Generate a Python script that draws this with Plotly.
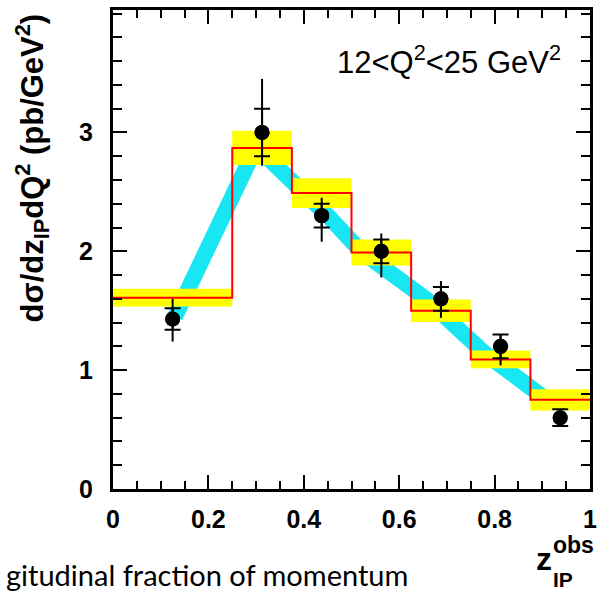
import plotly.graph_objects as go

# ---- data ----
bin_edges = [0.0, 0.25, 0.375, 0.5, 0.625, 0.75, 0.875, 1.0]
model_vals = [1.61, 2.87, 2.49, 1.99, 1.50, 1.09, 0.75]
model_unc = [0.075, 0.145, 0.125, 0.11, 0.095, 0.075, 0.09]

data_x = [0.125, 0.3125, 0.4375, 0.5625, 0.6875, 0.8125, 0.9375]
data_y = [1.43, 3.00, 2.30, 2.00, 1.60, 1.20, 0.60]
stat_err = [0.09, 0.20, 0.10, 0.10, 0.10, 0.10, 0.07]
tot_up = [0.17, 0.45, 0.15, 0.15, 0.15, 0.10, 0.07]
tot_dn = [0.19, 0.28, 0.22, 0.22, 0.16, 0.16, 0.07]

cyan_x = [0.13, 0.30, 0.45, 0.52, 0.656, 0.78, 0.90]
cyan_y = [1.45, 2.88, 2.30, 2.00, 1.60, 1.14, 0.78]

x_ticks = [0, 0.2, 0.4, 0.6, 0.8, 1]
x_ticklabels = ["0", "0.2", "0.4", "0.6", "0.8", "1"]
y_ticks = [0, 1, 2, 3]
y_ticklabels = ["0", "1", "2", "3"]

YELLOW = "#ffff00"
CYAN = "#18e6f2"
RED = "#ff0000"

fig = go.Figure()

# cyan model band
fig.add_trace(go.Scatter(x=cyan_x, y=cyan_y, mode="lines",
                         line=dict(color=CYAN, width=16), hoverinfo="skip"))

# yellow uncertainty boxes
for i, v in enumerate(model_vals):
    x0, x1 = bin_edges[i], bin_edges[i + 1]
    lo, hi = v - model_unc[i], v + model_unc[i]
    fig.add_trace(go.Scatter(x=[x0, x1, x1, x0, x0], y=[lo, lo, hi, hi, lo],
                             mode="lines", fill="toself", fillcolor=YELLOW,
                             line=dict(width=0, color=YELLOW), hoverinfo="skip"))

# red histogram
fig.add_trace(go.Scatter(x=bin_edges, y=model_vals + [model_vals[-1]],
                         mode="lines", line=dict(color=RED, width=2, shape="hv"),
                         hoverinfo="skip"))

# data: total errors (no caps)
fig.add_trace(go.Scatter(x=data_x, y=data_y, mode="markers",
                         marker=dict(color="black", size=15),
                         error_y=dict(type="data", symmetric=False, array=tot_up,
                                      arrayminus=tot_dn, color="black",
                                      thickness=2, width=0)))
# stat errors (with caps)
fig.add_trace(go.Scatter(x=data_x, y=data_y, mode="markers",
                         marker=dict(color="black", size=15),
                         error_y=dict(type="data", array=stat_err, color="black",
                                      thickness=2, width=8)))

L, R, T, B = 113, 596, 7, 489
W, H = 604, 591


def px(xp):
    return (xp - L) / (R - L)


def py(yp):
    return (B - yp) / (B - T)


fig.update_layout(
    width=W, height=H,
    margin=dict(l=L, r=W - R, t=T, b=H - B, pad=0),
    paper_bgcolor="white", plot_bgcolor="white",
    showlegend=False,
    xaxis=dict(range=[0, 1], tickvals=x_ticks, ticktext=x_ticklabels,
               ticks="inside", ticklen=14, tickwidth=2, tickcolor="black",
               showline=True, linewidth=3, linecolor="black", mirror="ticks",
               showgrid=False, zeroline=False,
               tickfont=dict(family="Liberation Sans", size=25, color="black", weight="bold"),
               ticklabelstandoff=6,
               minor=dict(ticks="inside", dtick=0.05, ticklen=8, tickwidth=2,
                          tickcolor="black", showgrid=False)),
    yaxis=dict(range=[0, 4.03], tickvals=y_ticks, ticktext=y_ticklabels,
               ticks="inside", ticklen=14, tickwidth=2, tickcolor="black",
               showline=True, linewidth=3, linecolor="black", mirror="ticks",
               showgrid=False, zeroline=False,
               tickfont=dict(family="Liberation Sans", size=25, color="black", weight="bold"),
               ticklabelstandoff=12,
               minor=dict(ticks="inside", dtick=0.2, ticklen=9, tickwidth=2,
                          tickcolor="black", showgrid=False)),
)

ann = [
    dict(text="12&lt;Q<sup>2</sup>&lt;25 GeV<sup>2</sup>", x=px(453), y=py(57),
         xanchor="center", yanchor="middle",
         font=dict(family="Liberation Sans", size=31, color="black")),
    dict(text="<b>d\u03c3/dz<sub>IP</sub>dQ<sup>2</sup> (pb/GeV<sup>2</sup>)</b>",
         x=px(31), y=py(9), xanchor="center", yanchor="top", textangle=-90,
         font=dict(family="Liberation Sans", size=31, color="black")),
    dict(text="gitudinal fraction of momentum", x=px(3), y=py(575),
         xanchor="left", yanchor="middle",
         font=dict(family="Lato", size=29, color="black")),
    dict(text="<b>z</b>", x=px(549), y=py(559), xanchor="center", yanchor="middle",
         font=dict(family="Liberation Sans", size=32, color="black")),
    dict(text="<b>obs</b>", x=px(557), y=py(545), xanchor="left", yanchor="middle",
         font=dict(family="Liberation Sans", size=23, color="black")),
    dict(text="<b>IP</b>", x=px(557), y=py(580), xanchor="left", yanchor="middle",
         font=dict(family="Liberation Sans", size=21, color="black")),
]
for a in ann:
    fig.add_annotation(xref="paper", yref="paper", showarrow=False, **a)

fig.write_html("out.html")
